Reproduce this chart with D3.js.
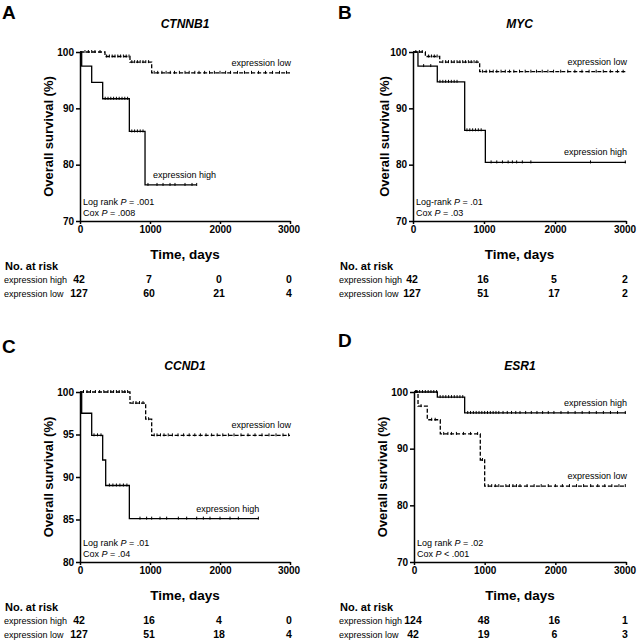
<!DOCTYPE html>
<html><head><meta charset="utf-8">
<script src="https://cdn.jsdelivr.net/npm/d3@7"></script>
<style>
body{margin:0;background:#fff}
svg{display:block;font-family:Arial,"Liberation Sans",sans-serif}
</style>
</head><body>
<svg id="chart" width="637" height="640"></svg>
<script>
// ---------------- DATA ----------------
const panelLetters = ["A", "B", "C", "D"];
const geneNames = ["CTNNB1", "MYC", "CCND1", "ESR1"];
const timeTicks = [0, 1000, 2000, 3000];
const yTicksWide = [70, 80, 90, 100];
const yTicksNarrow = [80, 85, 90, 95, 100];
const logRankLabel = ["Log rank ", "Log-rank ", "Log rank ", "Log rank "];
const logRankP = [" = .001", " = .01", " = .01", " = .02"];
const coxP = [" = .008", " = .03", " = .04", " < .001"];
const riskRowLabels = ["expression high", "expression low"];
const riskHigh = [[42, 7, 0, 0], [42, 16, 5, 2], [42, 16, 4, 0], [124, 48, 16, 1]];
const riskLow = [[127, 60, 21, 4], [127, 51, 17, 2], [127, 51, 18, 4], [42, 19, 6, 3]];

// Panel A (CTNNB1)
const aHighT = [0, 24, 167, 324, 705, 929, 1667];
const aHighS = [100, 97.5, 94.6, 91.7, 85.9, 76.4, 76.4];
const aHighC = [360, 400, 440, 480, 520, 560, 600, 640, 680, 740, 780, 820, 860, 900, 971, 1100, 1186, 1286, 1357, 1500, 1600, 1667];
const aLowT = [0, 357, 714, 1024, 3000];
const aLowS = [100, 99.2, 98.2, 96.3, 96.3];
const aLowC = [71, 119, 167, 214, 286, 380, 420, 460, 500, 540, 580, 620, 660, 700, 740, 780, 820, 860, 900, 940, 980, 1060, 1110, 1170, 1230, 1290, 1350, 1420, 1500, 1560, 1640, 1700, 1780, 1850, 1920, 2000, 2080, 2150, 2250, 2350, 2450, 2550, 2650, 2750, 2850, 2950];

// Panel B (MYC)
const bHighT = [0, 70, 342, 728, 1019, 3000];
const bHighS = [100, 97.5, 94.7, 86.1, 80.4, 80.4];
const bHighC = [150, 250, 380, 420, 460, 500, 540, 580, 620, 760, 800, 840, 880, 920, 960, 1100, 1180, 1260, 1340, 1400, 1460, 1540, 1660, 2500, 2990];
const bLowT = [0, 174, 376, 939, 3000];
const bLowS = [100, 99.2, 98.2, 96.5, 96.5];
const bLowC = [40, 90, 130, 220, 260, 300, 340, 420, 460, 500, 540, 580, 620, 660, 700, 740, 780, 820, 860, 900, 980, 1030, 1080, 1130, 1180, 1240, 1300, 1360, 1420, 1500, 1580, 1660, 1740, 1820, 1900, 1980, 2080, 2180, 2280, 2380, 2480, 2580, 2680, 2780, 2880, 2960];

// Panel C (CCND1)
const cHighT = [0, 24, 167, 324, 367, 705, 2548];
const cHighS = [100, 97.5, 94.9, 92.0, 89.0, 85.1, 85.1];
const cHighC = [200, 250, 300, 420, 470, 520, 570, 620, 670, 857, 952, 1024, 1143, 1238, 1405, 1524, 1667, 1762, 1857, 2000, 2143, 2262, 2548];
const cLowT = [0, 714, 938, 1024, 3000];
const cLowS = [100, 98.7, 96.8, 94.9, 94.9];
const cLowC = [50, 100, 150, 220, 280, 340, 400, 440, 480, 520, 560, 600, 640, 680, 760, 800, 850, 900, 980, 1060, 1100, 1150, 1200, 1260, 1320, 1400, 1480, 1560, 1640, 1720, 1800, 1880, 1960, 2040, 2120, 2200, 2300, 2400, 2500, 2600, 2700, 2800, 2900, 2980];

// Panel D (ESR1)
const dHighT = [0, 330, 717, 3000];
const dHighS = [100, 99.1, 96.3, 96.3];
const dHighC = [40, 80, 120, 160, 200, 240, 280, 320, 370, 410, 450, 490, 530, 570, 610, 650, 690, 760, 800, 840, 880, 920, 960, 1000, 1040, 1080, 1120, 1160, 1200, 1260, 1320, 1380, 1440, 1500, 1580, 1660, 1740, 1820, 1900, 1980, 2080, 2180, 2280, 2380, 2480, 2580, 2680, 2780, 2880, 2990];
const dLowT = [0, 57, 188, 372, 938, 1000, 3000];
const dLowS = [100, 97.5, 95.1, 92.6, 88.0, 83.4, 83.4];
const dLowC = [20, 40, 100, 250, 300, 420, 480, 530, 600, 700, 800, 900, 970, 1050, 1100, 1150, 1200, 1300, 1350, 1400, 1450, 1500, 1600, 1700, 1800, 1900, 2000, 2100, 2200, 2300, 2400, 2500, 2600, 2700, 2800, 2900, 2990];

// ---------------- LAYOUT ----------------
const svg = d3.select("#chart");
const layouts = [
  {x0: 80, x1: 290, yTop: 52, yBot: 221, letter: [2, 19], titleY: 28, yTitleX: 48, rowX: 4, yDomain: [70, 100], yTicks: yTicksWide, hiLab: "start", loLab: "end", hiLabT: 1043},
  {x0: 413, x1: 626, yTop: 52, yBot: 221, letter: [338, 19], titleY: 28, yTitleX: 384, rowX: 339, yDomain: [70, 100], yTicks: yTicksWide, hiLab: "end", loLab: "end"},
  {x0: 80, x1: 290, yTop: 392, yBot: 562, letter: [2, 353], titleY: 370, yTitleX: 48, rowX: 4, yDomain: [80, 100], yTicks: yTicksNarrow, hiLab: "end", loLab: "end"},
  {x0: 414, x1: 626, yTop: 392, yBot: 562, letter: [338, 347], titleY: 370, yTitleX: 382, rowX: 339, yDomain: [70, 100], yTicks: yTicksWide, hiLab: "end", loLab: "end"}
];
const series = [
  {high: [aHighT, aHighS, aHighC], low: [aLowT, aLowS, aLowC]},
  {high: [bHighT, bHighS, bHighC], low: [bLowT, bLowS, bLowC]},
  {high: [cHighT, cHighS, cHighC], low: [cLowT, cLowS, cLowC]},
  {high: [dHighT, dHighS, dHighC], low: [dLowT, dLowS, dLowC]}
];
function survAt(T, S, t) {
  let i = d3.bisectRight(T, t) - 1;
  if (i < 0) i = 0;
  return S[i];
}

layouts.forEach((L, p) => {
  const g = svg.append("g");
  const x = d3.scaleLinear().domain([0, 3000]).range([L.x0, L.x1]);
  const y = d3.scaleLinear().domain(L.yDomain).range([L.yBot, L.yTop]);

  g.append("text").attr("x", L.letter[0]).attr("y", L.letter[1])
    .attr("font-size", 19).attr("font-weight", "bold").text(panelLetters[p]);
  g.append("text").attr("x", (L.x0 + L.x1) / 2).attr("y", L.titleY)
    .attr("text-anchor", "middle").attr("font-size", 12).attr("font-weight", "bold")
    .attr("font-style", "italic").text(geneNames[p]);

  const yAxis = d3.axisLeft(y).tickValues(L.yTicks).tickFormat(d3.format("d")).tickSize(4).tickPadding(2).tickSizeOuter(0);
  const xAxis = d3.axisBottom(x).tickValues(timeTicks).tickFormat(d3.format("d")).tickSize(3).tickPadding(2).tickSizeOuter(0);
  const ya = g.append("g").attr("transform", `translate(${L.x0},0)`).call(yAxis);
  const xa = g.append("g").attr("transform", `translate(0,${L.yBot})`).call(xAxis);
  [ya, xa].forEach(a => {
    a.select(".domain").attr("stroke", "#000").attr("stroke-width", 1.5);
    a.selectAll(".tick line").attr("stroke", "#000").attr("stroke-width", 1.5);
    a.selectAll("text").attr("font-size", 10).attr("font-weight", "bold")
      .attr("font-family", "Arial, 'Liberation Sans', sans-serif").attr("fill", "#000");
  });
  // keep the rightmost tick label inside the page
  xa.selectAll(".tick").filter(d => d === 3000).select("text").attr("dx", -1.5);

  g.append("text").attr("transform", `translate(${L.yTitleX},${(L.yTop + L.yBot) / 2}) rotate(-90)`)
    .attr("text-anchor", "middle").attr("dy", "0.35em").attr("font-size", 13).attr("font-weight", "bold")
    .text("Overall survival (%)");
  g.append("text").attr("x", (L.x0 + L.x1) / 2).attr("y", L.yBot + 38)
    .attr("text-anchor", "middle").attr("font-size", 13.5).attr("font-weight", "bold")
    .text("Time, days");

  const line = d3.line().x(d => x(d[0])).y(d => y(d[1])).curve(d3.curveStepAfter);
  const drawCurve = (ser, dashed) => {
    const [T, S, C] = ser;
    const pts = T.map((t, i) => [t, S[i]]);
    g.append("path").attr("d", line(pts)).attr("fill", "none").attr("stroke", "#000")
      .attr("stroke-width", 1.3).attr("stroke-dasharray", dashed ? "4,2" : null);
    g.selectAll(null).data(C).enter().append("line")
      .attr("x1", d => x(d)).attr("x2", d => x(d))
      .attr("y1", d => y(survAt(T, S, d)) - 2).attr("y2", d => y(survAt(T, S, d)) + 1)
      .attr("stroke", "#000").attr("stroke-width", 1);
  };
  drawCurve(series[p].high, false);
  drawCurve(series[p].low, true);

  const labelFor = (ser, text, anchor, tStart) => {
    const [T, S] = ser;
    const endT = T[T.length - 1];
    const yy = y(S[S.length - 1]) - 7;
    const xx = anchor === "end" ? x(endT) + 1 : x(tStart);
    g.append("text").attr("x", xx).attr("y", yy).attr("text-anchor", anchor)
      .attr("font-size", 9).text(text);
  };
  labelFor(series[p].high, "expression high", L.hiLab, L.hiLabT);
  labelFor(series[p].low, "expression low", L.loLab, 0);

  const st1 = g.append("text").attr("x", L.x0 + 3).attr("y", L.yBot - 16).attr("font-size", 9);
  st1.append("tspan").text(logRankLabel[p]);
  st1.append("tspan").attr("font-style", "italic").text("P");
  st1.append("tspan").text(logRankP[p]);
  const st2 = g.append("text").attr("x", L.x0 + 3).attr("y", L.yBot - 5).attr("font-size", 9);
  st2.append("tspan").text("Cox ");
  st2.append("tspan").attr("font-style", "italic").text("P");
  st2.append("tspan").text(coxP[p]);

  g.append("text").attr("x", L.rowX + 1).attr("y", L.yBot + 49)
    .attr("font-size", 11).attr("font-weight", "bold").text("No. at risk");
  [riskHigh[p], riskLow[p]].forEach((vals, r) => {
    const yy = L.yBot + 62 + r * 14;
    g.append("text").attr("x", L.rowX).attr("y", yy).attr("font-size", 9).text(riskRowLabels[r]);
    g.selectAll(null).data(vals).enter().append("text")
      .attr("x", (d, i) => x(timeTicks[i]) - 1).attr("y", yy)
      .attr("text-anchor", "middle").attr("font-size", 10.5).attr("font-weight", "bold")
      .text(d => d);
  });
});
</script>
</body></html>
